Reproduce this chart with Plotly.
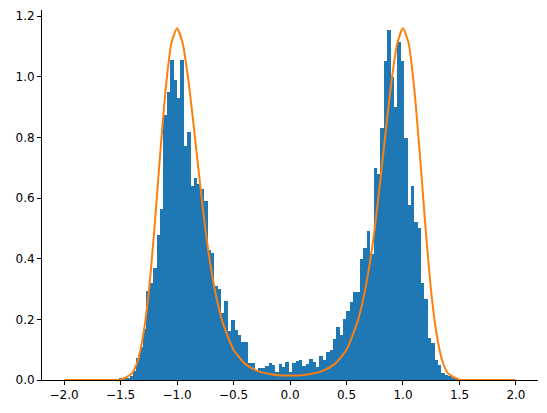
import numpy as np
import plotly.graph_objects as go

# histogram (density), bins of width 0.03 starting at -1.57
bin_start = -1.57
bin_width = 0.03
density = [0.002, 0.003, 0.004, 0.006, 0.008, 0.012,
           0.03, 0.072, 0.11, 0.167, 0.295, 0.32, 0.369, 0.479, 0.564, 0.875,
           0.95, 1.056, 0.99, 0.93, 1.056, 0.772, 0.818, 0.641, 0.665, 0.647,
           0.63, 0.59, 0.43, 0.42, 0.31, 0.30, 0.22, 0.26, 0.163, 0.198,
           0.165, 0.147, 0.126, 0.126, 0.055, 0.055, 0.033, 0.038, 0.038, 0.047,
           0.057, 0.05, 0.028, 0.053, 0.044, 0.06, 0.028, 0.057, 0.063, 0.066,
           0.047, 0.053, 0.07, 0.06, 0.044, 0.079, 0.066, 0.093, 0.1, 0.134,
           0.176, 0.148, 0.2, 0.228, 0.258, 0.291, 0.291, 0.4, 0.434, 0.49,
           0.415, 0.698, 0.68, 0.83, 1.053, 1.155, 1.0, 0.9, 1.113, 1.053,
           0.797, 0.577, 0.64, 0.522, 0.5, 0.319, 0.266, 0.137, 0.123, 0.066,
           0.05, 0.022, 0.017, 0.013, 0.006, 0.004, 0.003]

# curve
curve_x = [-2.0, -1.8, -1.6, -1.5, -1.4, -1.35, -1.3, -1.25, -1.2, -1.15, -1.1, -1.05,
           -1.0, -0.95, -0.9, -0.85, -0.8, -0.75, -0.7, -0.65, -0.6, -0.5, -0.4,
           -0.3, -0.2, -0.1, 0.0, 0.1, 0.2, 0.3, 0.4, 0.5, 0.6, 0.65, 0.7, 0.75,
           0.8, 0.85, 0.9, 0.95, 1.0, 1.05, 1.1, 1.15, 1.2, 1.25, 1.3, 1.35, 1.4,
           1.5, 1.6, 1.8, 2.0]
curve_y = [0.0, 0.0, 0.0, 0.0013, 0.021, 0.061, 0.146, 0.29, 0.50, 0.74, 0.96, 1.11,
           1.16, 1.11, 0.99, 0.83, 0.66, 0.50, 0.37, 0.27, 0.195, 0.10, 0.054,
           0.032, 0.021, 0.016, 0.015, 0.016, 0.021, 0.032, 0.054, 0.10, 0.195,
           0.27, 0.37, 0.50, 0.66, 0.83, 0.99, 1.11, 1.16, 1.11, 0.96, 0.74, 0.50,
           0.29, 0.146, 0.061, 0.021, 0.0013, 0.0, 0.0, 0.0]

centers = bin_start + bin_width * (np.arange(len(density)) + 0.5)

fig = go.Figure()
fig.add_trace(go.Bar(x=centers, y=density, width=bin_width + 0.0005,
                     marker=dict(color='#1f77b4', line=dict(width=0))))
fig.add_trace(go.Scatter(x=curve_x, y=curve_y, mode='lines',
                         line=dict(color='#ff7f0e', width=2, shape='spline', smoothing=0.6)))

axis_common = dict(showgrid=False, zeroline=False, showline=True, linecolor='black',
                   linewidth=1, ticks='outside', ticklen=4, tickcolor='black',
                   tickfont=dict(family='DejaVu Sans', size=12, color='black'))
fig.update_layout(
    width=539, height=405, showlegend=False, bargap=0,
    plot_bgcolor='white', paper_bgcolor='white',
    margin=dict(l=34, r=9, t=2, b=33),
    xaxis=dict(range=[-2.195, 2.195], tickvals=[-2.0, -1.5, -1.0, -0.5, 0.0, 0.5, 1.0, 1.5, 2.0],
               ticktext=['−2.0', '−1.5', '−1.0', '−0.5', '0.0', '0.5', '1.0', '1.5', '2.0'], **axis_common),
    yaxis=dict(range=[0, 1.22], tickvals=[0, 0.2, 0.4, 0.6, 0.8, 1.0, 1.2],
               ticktext=['0.0', '0.2', '0.4', '0.6', '0.8', '1.0', '1.2'], **axis_common),
)
fig.write_html("out.html")
